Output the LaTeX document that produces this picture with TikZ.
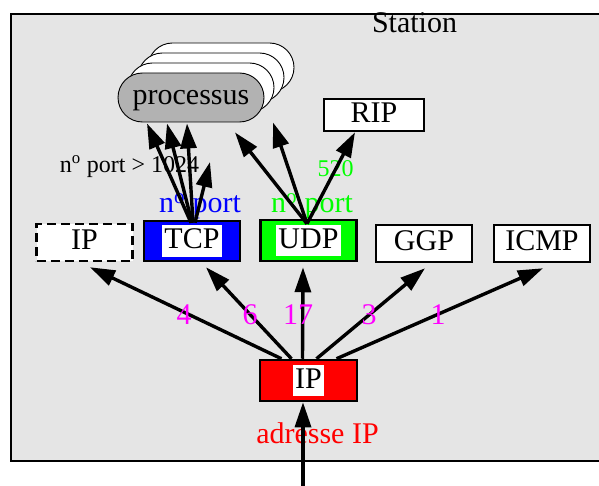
\documentclass[tikz,border=0pt]{standalone}
\usepackage{fontspec}
\setmainfont{Liberation Serif}
\usetikzlibrary{arrows.meta,shapes.misc}
\definecolor{fond}{gray}{0.9}
\definecolor{procgris}{gray}{0.7}
\definecolor{vertvif}{rgb}{0,1,0}
\definecolor{rose}{rgb}{1,0,1}
\newcommand{\grand}{\fontsize{30}{36}\selectfont}
\newcommand{\petit}{\fontsize{24}{29}\selectfont}

\begin{document}
\begin{tikzpicture}[x=1pt,y=-1pt]
\tikzset{boite/.style={draw,line width=2.5pt,fill=white,minimum width=96pt,minimum height=37pt,inner sep=0pt,text height=21pt,text depth=6pt,font=\grand},
etiq/.style={fill=white,inner xsep=2pt,inner ysep=2pt,text height=21pt,text depth=6pt,font=\grand},
proc/.style={draw,line width=0.9pt,rounded rectangle,minimum width=146pt,minimum height=49pt,inner sep=0pt,text height=21pt,text depth=6pt,font=\grand},
fleche/.style={line width=3.4pt,-{Triangle[length=25pt,width=16pt]}},
texte/.style={inner sep=0pt,anchor=base,font=\grand},
nombre/.style={inner sep=0pt,anchor=base,font=\grand,text=rose}}
\useasboundingbox (0,0) rectangle (599,486);

\fill[fond] (11,14) rectangle (599,461);
\draw[line width=1.5pt] (599,14) -- (11,14) -- (11,461) -- (599,461);
\node[texte] (station) at (414.5,33) {Station};

\foreach \k in {3,2,1}
  \node[proc,fill=white] (p\k) at (191+10*\k,97.5-10*\k) {};
\node[proc,fill=procgris] (proc) at (191,97.5) {processus};

\node[boite,minimum width=100pt,minimum height=32pt] (rip) at (374,115) {RIP};

\node[boite,dash pattern=on 9pt off 5pt] (ipd) at (84.5,242.5) {IP};
\node[boite,fill=blue,minimum height=40pt,label={[etiq]center:TCP}] (tcp) at (192,241) {};
\node[boite,fill=vertvif,minimum height=41pt,label={[etiq]center:UDP}] (udp) at (308.5,240.5) {};
\node[boite] (ggp) at (424,243.5) {GGP};
\node[boite] (icmp) at (542,243.5) {ICMP};
\node[boite,fill=red,minimum width=97pt,minimum height=41pt,label={[etiq]center:IP}] (ipr) at (308.5,380.5) {};

\node[texte,font=\petit] (n1024) at (129.5,173) {n\textsuperscript{o} port > 1024};
\node[texte,text=blue] (ntcp) at (200,213) {n\textsuperscript{o} port};
\node[texte,text=vertvif] (nudp) at (312,213) {n\textsuperscript{o} port};
\node[texte,font=\petit,text=vertvif] (n520) at (335.5,177) {520};
\node[texte,text=red] (adr) at (317.5,443) {adresse IP};

\coordinate (entree) at (303,486);
\coordinate (c1) at (210,162);

\draw[fleche] (entree) -- ([xshift=-5.5pt]ipr.south);
\draw[fleche] ([xshift=-27pt]ipr.north) -- ([shift={(5.5pt,-5pt)}]ipd.south);
\draw[fleche] ([xshift=-17pt]ipr.north) -- ([shift={(14pt,-5pt)}]tcp.south);
\draw[fleche] ([xshift=-6pt]ipr.north) -- ([shift={(-5.5pt,-5pt)}]udp.south);
\draw[fleche] ([xshift=8pt]ipr.north) -- ([shift={(1pt,-5pt)}]ggp.south);
\draw[fleche] ([xshift=28pt]ipr.north) -- ([shift={(1pt,-5pt)}]icmp.south);

\draw[fleche] ([shift={(-1pt,-3pt)}]tcp.north) -- ([shift={(-44pt,-1pt)}]proc.south);
\draw[fleche] ([shift={(0pt,-3pt)}]tcp.north) -- ([shift={(-24pt,-1pt)}]proc.south);
\draw[fleche] ([shift={(1pt,-3pt)}]tcp.north) -- ([shift={(-4pt,-1pt)}]proc.south);
\draw[fleche] ([shift={(3pt,-3pt)}]tcp.north) -- (c1);

\draw[fleche] ([shift={(-1.5pt,-5pt)}]udp.north) -- ([shift={(44pt,-10pt)}]proc.south);
\draw[fleche] ([shift={(-1.5pt,-5pt)}]udp.north) -- ([shift={(82pt,0pt)}]proc.south);
\draw[fleche] ([shift={(-1.5pt,-5pt)}]udp.north) -- ([xshift=-19pt]rip.south);

\node[nombre] (n4) at (184,324) {4};
\node[nombre] (n6) at (250,324) {6};
\node[nombre] (n17) at (298,324) {17};
\node[nombre] (n3) at (369,324) {3};
\node[nombre] (n1) at (438,324) {1};
\end{tikzpicture}
\end{document}
